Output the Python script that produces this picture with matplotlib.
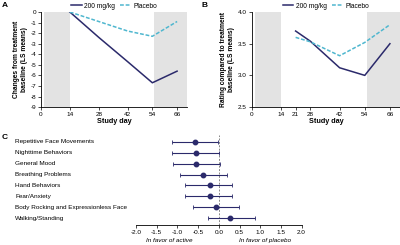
import matplotlib.pyplot as plt

plt.rcParams['font.family'] = ['Liberation Sans', 'DejaVu Sans']

# Panel A data
days_a = [14, 28, 42, 54, 66]
active_a = [0, -2.4, -4.7, -6.7, -5.6]
placebo_a = [0, -0.9, -1.8, -2.3, -0.9]

# Panel B data
days_b = [21, 28, 42, 54, 66]
active_b = [3.7, 3.54, 3.12, 3.0, 3.5]
placebo_b = [3.6, 3.53, 3.31, 3.52, 3.8]

# Panel C data
domains = ['Repetitive Face Movements', 'Nighttime Behaviors', 'General Mood',
           'Breathing Problems', 'Hand Behaviors', 'Fear/Anxiety',
           'Body Rocking and Expressionless Face', 'Walking/Standing']
estimate = [-0.58, -0.55, -0.56, -0.37, -0.22, -0.21, -0.06, 0.26]
ci_low = [-1.14, -1.13, -1.11, -0.94, -0.82, -0.81, -0.62, -0.26]
ci_high = [-0.02, 0.0, 0.02, 0.2, 0.32, 0.31, 0.49, 0.87]

navy = '#2b2a6b'
teal = '#4fb7cf'
shade = '#e3e3e3'
fs = 4.6

fig = plt.figure(figsize=(4, 2.45), dpi=100)


def line_panel(ax, days, act, plc, ylim, yticks, yfmt, ylabel, xticks):
    ax.axvspan(1.5, 14, color=shade, lw=0, zorder=0)
    ax.axvspan(55, 71, color=shade, lw=0, zorder=0)
    ax.plot(days, act, color=navy, lw=1.1, label='200 mg/kg')
    ax.plot(days, plc, color=teal, lw=1.1, ls=(0, (2.5, 1.2)), label='Placebo')
    ax.set_xlim(0, 71)
    ax.set_ylim(*ylim)
    ax.set_xticks(xticks)
    ax.set_yticks(yticks)
    ax.set_yticklabels([yfmt.format(v) for v in yticks])
    ax.tick_params(labelsize=fs, length=2, width=0.5, pad=1.5)
    for s in ['top', 'right']:
        ax.spines[s].set_visible(False)
    for s in ['left', 'bottom']:
        ax.spines[s].set_linewidth(0.6)
    ax.set_xlabel('Study day', fontsize=5.2, fontweight='bold', labelpad=1)
    ax.set_ylabel(ylabel, fontsize=4.8, fontweight='bold', labelpad=2, linespacing=1.1)
    ax.legend(loc='lower center', bbox_to_anchor=(0.5, 0.99), ncol=2, frameon=False,
              fontsize=4.8, handlelength=1.6, columnspacing=0.8, borderpad=0, handletextpad=0.4)


ax_a = fig.add_axes([0.1025, 0.563, 0.366, 0.388])
line_panel(ax_a, days_a, active_a, placebo_a, (-9, 0), list(range(0, -10, -1)), '{:d}',
           'Changes from treatment\nbaseline (LS means)', [0, 14, 28, 42, 54, 66])

ax_b = fig.add_axes([0.629, 0.563, 0.372, 0.388])
line_panel(ax_b, days_b, active_b, placebo_b, (2.5, 4.0), [2.5, 3.0, 3.5, 4.0], '{:.1f}',
           'Rating compared to treatment\nbaseline (LS means)', [0, 14, 21, 28, 42, 54, 66])

# Panel C forest plot
ax_c = fig.add_axes([0.34, 0.082, 0.414, 0.3665])
rows = list(range(1, len(domains) + 1))
lo_err = [e - l for e, l in zip(estimate, ci_low)]
hi_err = [h - e for e, h in zip(estimate, ci_high)]
ax_c.errorbar(estimate, rows, xerr=[lo_err, hi_err], fmt='o', color=navy, ms=3.2,
              elinewidth=0.8, capsize=1.2, capthick=0.6)
ax_c.axvline(0, color='#888888', lw=0.7, ls=(0, (2, 1.5)), zorder=0)
ax_c.set_xlim(-2, 2)
ax_c.set_ylim(8.6, 0.4)
ax_c.set_xticks([-2.0, -1.5, -1.0, -0.5, 0.0, 0.5, 1.0, 1.5, 2.0])
ax_c.set_xticklabels(['{:.1f}'.format(v) for v in ax_c.get_xticks()])
ax_c.set_yticks([])
for s in ['top', 'right', 'left']:
    ax_c.spines[s].set_visible(False)
ax_c.spines['bottom'].set_linewidth(0.6)
ax_c.tick_params(labelsize=fs, length=2, width=0.5, pad=1.5)
trans = ax_c.get_yaxis_transform()
for r, name in zip(rows, domains):
    ax_c.text(-0.73, r, name, transform=trans, ha='left', va='center', fontsize=fs)
ax_c.text(-1.2, -0.15, 'In favor of active', transform=ax_c.get_xaxis_transform(),
          ha='center', va='top', fontsize=fs, style='italic')
ax_c.text(1.12, -0.15, 'In favor of placebo', transform=ax_c.get_xaxis_transform(),
          ha='center', va='top', fontsize=fs, style='italic')

fig.text(0.005, 0.99, 'A', fontsize=6, fontweight='bold', va='top')
fig.text(0.505, 0.99, 'B', fontsize=6, fontweight='bold', va='top')
fig.text(0.005, 0.455, 'C', fontsize=6, fontweight='bold', va='top')

fig.savefig('out.png', dpi=100)
